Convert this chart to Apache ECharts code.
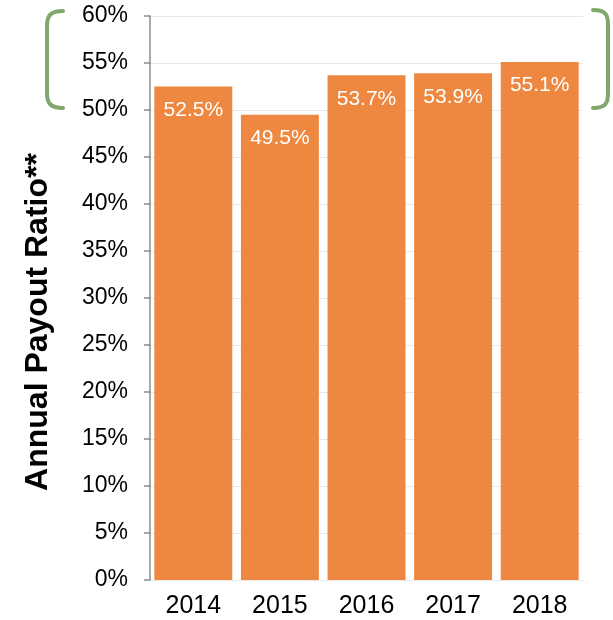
<!DOCTYPE html>
<html>
<head>
<meta charset="utf-8">
<script src="https://cdn.jsdelivr.net/npm/echarts@6/dist/echarts.min.js"></script>
<style>html,body{margin:0;padding:0;background:#fff}#c{width:613px;height:620px}</style>
</head>
<body>
<div id="c"></div>
<script>
var categories = ['2014', '2015', '2016', '2017', '2018'];
var payoutRatio = [52.5, 49.5, 53.7, 53.9, 55.1];
var yTitle = 'Annual Payout Ratio**';

var chart = echarts.init(document.getElementById('c'));
var green = '#7fa86a';
var bStyle = { stroke: green, lineWidth: 4, fill: null, lineCap: 'round' };
chart.setOption({
  animation: false,
  grid: { left: 150, right: 30, top: 16, bottom: 40 },
  xAxis: {
    type: 'category',
    data: categories,
    axisLine: { show: false },
    axisTick: { show: false },
    axisLabel: { color: '#000', fontSize: 25, fontFamily: 'Liberation Sans, Arial', margin: 14 }
  },
  yAxis: {
    type: 'value',
    min: 0, max: 60, interval: 5,
    axisLine: { show: true, lineStyle: { color: '#8c8c8c', width: 1.5 } },
    axisTick: { show: true, length: 6, lineStyle: { color: '#8c8c8c', width: 1.5 } },
    splitLine: { show: true, lineStyle: { color: '#e8e8e8', width: 1 } },
    axisLabel: { color: '#000', fontSize: 23, fontFamily: 'Liberation Sans, Arial', margin: 22, formatter: '{value}%' }
  },
  series: [{
    type: 'bar',
    data: payoutRatio,
    barCategoryGap: '10%',
    itemStyle: { color: '#ee8841' },
    label: {
      show: true, position: 'insideTop', distance: 13,
      color: '#fff', fontSize: 21, fontFamily: 'Liberation Sans, Arial',
      formatter: function (p) { return p.value.toFixed(1) + '%'; }
    }
  }],
  graphic: [
    {
      type: 'text', x: 38, y: 322, rotation: Math.PI / 2,
      style: { text: yTitle, fontSize: 32, fontWeight: 'bold', fontFamily: 'Liberation Sans, Arial', fill: '#000', align: 'center', verticalAlign: 'middle' }
    },
    { type: 'bezierCurve', shape: { x1: 63, y1: 11, cpx1: 50, cpy1: 11, cpx2: 47, cpy2: 16, x2: 47, y2: 26 }, style: bStyle },
    { type: 'line', shape: { x1: 47, y1: 26, x2: 47, y2: 93 }, style: bStyle },
    { type: 'bezierCurve', shape: { x1: 47, y1: 93, cpx1: 47, cpy1: 103, cpx2: 50, cpy2: 108, x2: 63, y2: 108 }, style: bStyle },
    { type: 'bezierCurve', shape: { x1: 593, y1: 10, cpx1: 606, cpy1: 10, cpx2: 608, cpy2: 15, x2: 608, y2: 25 }, style: bStyle },
    { type: 'line', shape: { x1: 608, y1: 25, x2: 608, y2: 93 }, style: bStyle },
    { type: 'bezierCurve', shape: { x1: 608, y1: 93, cpx1: 608, cpy1: 103, cpx2: 606, cpy2: 108, x2: 593, y2: 108 }, style: bStyle }
  ]
});
</script>
</body>
</html>
